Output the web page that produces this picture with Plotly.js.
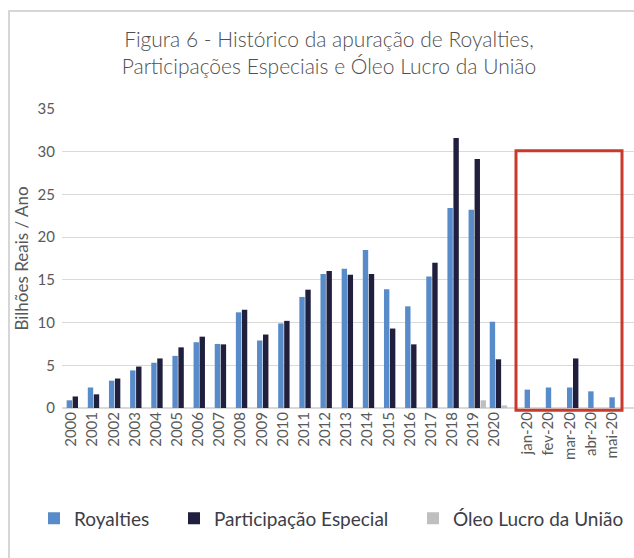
<!DOCTYPE html>
<html>
<head>
<meta charset="utf-8">
<script src="https://cdn.plot.ly/plotly-3.0.1.min.js"></script>
<style>
  html, body { margin: 0; padding: 0; background: #ffffff; }
  #wrap { position: relative; width: 634px; height: 558px; overflow: hidden; }
  #chart { position: absolute; left: 0; top: 0; width: 634px; height: 558px; }
  #frame { position: absolute; left: 8px; top: 10px; width: 640px; height: 560px;
           border-left: 2px solid #d6d6d6; border-top: 2px solid #d6d6d6; pointer-events: none; }
</style>
</head>
<body>
<div id="wrap">
  <div id="chart"></div>
  <div id="frame"></div>
</div>
<script>
// Annual data (Bilhões de Reais / Ano)
const years = ['2000','2001','2002','2003','2004','2005','2006','2007','2008','2009','2010',
               '2011','2012','2013','2014','2015','2016','2017','2018','2019','2020'];
const royaltiesYears = [0.9, 2.4, 3.2, 4.4, 5.3, 6.1, 7.7, 7.5, 11.2, 7.9, 9.9,
                        13.0, 15.7, 16.3, 18.5, 13.9, 11.9, 15.4, 23.4, 23.2, 10.1];
const peYears        = [1.35, 1.6, 3.45, 4.85, 5.8, 7.1, 8.35, 7.45, 11.5, 8.6, 10.2,
                        13.85, 16.05, 15.6, 15.7, 9.3, 7.45, 17.0, 31.6, 29.15, 5.7];
const oleoYears      = [0, 0, 0, 0, 0, 0, 0, 0, 0, 0, 0,
                        0, 0, 0, 0, 0, 0, 0, 0, 0.9, 0.3];

// Monthly data 2020
const months = ['jan-20','fev-20','mar-20','abr-20','mai-20'];
const royaltiesMonths = [2.15, 2.4, 2.4, 1.95, 1.25];
const peMonths        = [0, 0, 5.8, 0, 0];
const oleoMonths      = [0, 0, 0, 0, 0];

const seriesNames = ['Royalties', 'Participação Especial', 'Óleo Lucro da União'];
const seriesColors = ['#588bc9', '#201f3d', '#bfbfbf'];

const FONT = 'Lato, "Open Sans", sans-serif';

const traces = [
  {type:'bar', name: seriesNames[0], x: years, y: royaltiesYears, xaxis:'x', yaxis:'y',
   marker:{color: seriesColors[0]}, legend:'legend', legendgroup:'r'},
  {type:'bar', name: seriesNames[1], x: years, y: peYears, xaxis:'x', yaxis:'y',
   marker:{color: seriesColors[1]}, legend:'legend2', legendgroup:'p'},
  {type:'bar', name: seriesNames[2], x: years, y: oleoYears, xaxis:'x', yaxis:'y',
   marker:{color: seriesColors[2]}, legend:'legend3', legendgroup:'o'},
  {type:'bar', name: seriesNames[0], x: months, y: royaltiesMonths, xaxis:'x2', yaxis:'y',
   marker:{color: seriesColors[0]}, showlegend:false, legendgroup:'r'},
  {type:'bar', name: seriesNames[1], x: months, y: peMonths, xaxis:'x2', yaxis:'y',
   marker:{color: seriesColors[1]}, showlegend:false, legendgroup:'p'},
  {type:'bar', name: seriesNames[2], x: months, y: oleoMonths, xaxis:'x2', yaxis:'y',
   marker:{color: seriesColors[2]}, showlegend:false, legendgroup:'o'}
];

const plotLeft = 62, plotRight = 634, plotTop = 108.7, plotBottom = 408.3;
const W = plotRight - plotLeft, H = plotBottom - plotTop;
const split = (509 - plotLeft) / W;
const px2fx = p => (p - plotLeft) / W;
const py2fy = p => (plotBottom - p) / H;

const tickFont = {family: FONT, size: 15, color: '#595959'};
const legendFont = {family: FONT, size: 19, color: '#3d3d48'};

function legendAt(xpx) {
  return {orientation:'h', x: px2fx(xpx), xanchor:'left', y: py2fy(519), yanchor:'middle',
          font: legendFont, bgcolor:'rgba(0,0,0,0)', borderwidth:0, itemclick:false};
}

const layout = {
  width: 634, height: 558,
  margin: {l: plotLeft, r: 634 - plotRight, t: plotTop, b: 558 - plotBottom, pad: 0},
  paper_bgcolor: 'rgba(0,0,0,0)', plot_bgcolor: 'rgba(0,0,0,0)',
  font: {family: FONT, color: '#595959'},
  title: {
    text: 'Figura 6 - Histórico da apuração de Royalties,<br>Participações Especiais e Óleo Lucro da União',
    font: {family: FONT, size: 21, color: '#505050', weight: 300},
    x: 329 / 634, xref: 'container', xanchor: 'center',
    y: 1 - 47 / 558, yref: 'container', yanchor: 'top'
  },
  barmode: 'group', bargap: 0.15, bargroupgap: 0.1,
  xaxis: {
    domain: [0, split], anchor: 'y', type: 'category',
    range: [-0.63, 20.5], tickangle: -90, tickfont: tickFont,
    showgrid: false, zeroline: false, showline: false, ticks: '',
    ticklabelshift: -4, fixedrange: true
  },
  xaxis2: {
    domain: [split, 1], anchor: 'y', type: 'category',
    range: [-1.146, 4.75], tickangle: -90, tickfont: tickFont,
    showgrid: false, zeroline: false, showline: false, ticks: '',
    ticklabelshift: -6, fixedrange: true
  },
  yaxis: {
    anchor: 'x', range: [0, 35], dtick: 5, tick0: 0,
    tickfont: tickFont, ticks: '', ticklabelstandoff: 6,
    showgrid: true, gridcolor: '#d9d9d9', gridwidth: 1,
    zeroline: true, zerolinecolor: '#d9d9d9', zerolinewidth: 1.5,
    title: {text: 'Bilhões Reais / Ano', font: {family: FONT, size: 17, color: '#595959'}, standoff: 4},
    fixedrange: true
  },
  legend: legendAt(34),
  legend2: legendAt(174),
  legend3: legendAt(413),
  shapes: [{
    type: 'rect', xref: 'paper', yref: 'paper',
    x0: px2fx(516), x1: px2fx(622), y0: py2fy(410.5), y1: py2fy(150.5),
    line: {color: '#c9392c', width: 3}, fillcolor: 'rgba(0,0,0,0)'
  }],
  showlegend: true
};

Plotly.newPlot('chart', traces, layout, {displayModeBar: false, staticPlot: true});
</script>
</body>
</html>
